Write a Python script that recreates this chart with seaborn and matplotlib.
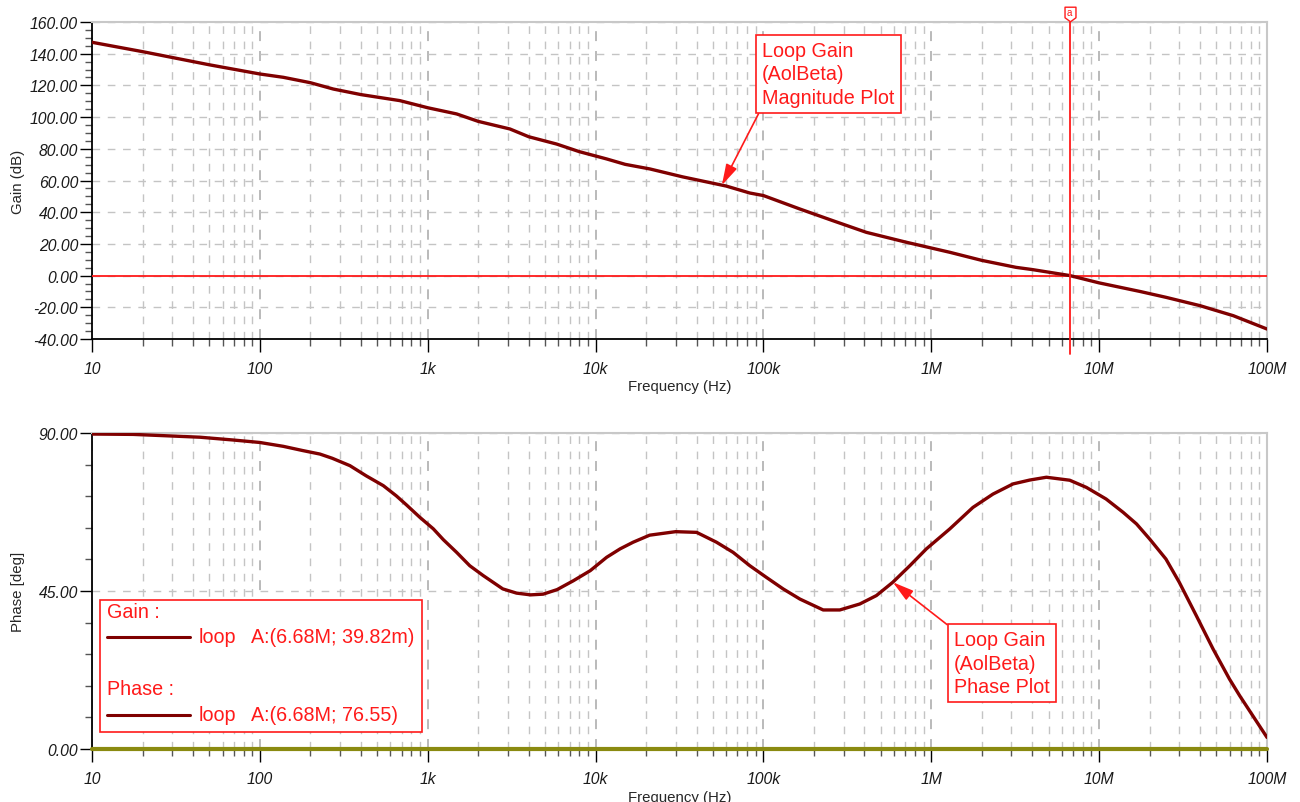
import numpy as np
import pandas as pd
import matplotlib
matplotlib.use("Agg")
import matplotlib.pyplot as plt
import matplotlib.transforms as mtransforms
from matplotlib.path import Path
from matplotlib.patches import Rectangle
from matplotlib.lines import Line2D
from matplotlib.ticker import FixedLocator, MultipleLocator, LogLocator, NullFormatter, FuncFormatter
import seaborn as sns

# ---- loop gain (AolBeta) data ----
gain_freq = [10, 20, 50, 100, 138, 200, 274, 400, 682, 1e3, 1487, 2e3, 3090, 4e3, 5860,
             8e3, 11640, 1.5e4, 21050, 3.3e4, 6e4, 8.3e4, 1e5, 1.65e5, 2.6e5, 4.1e5, 7e5,
             1.29e6, 2e6, 3.2e6, 4e6, 6.68e6, 1e7, 1.75e7, 2.5e7, 4e7, 5e7, 6.3e7, 1e8]
gain_db = [147.2, 141.3, 133.0, 127.2, 125.1, 121.7, 117.7, 114.2, 110.4, 105.9, 102.0,
           97.3, 92.5, 87.6, 83.0, 78.2, 73.6, 70.2, 67.3, 62.3, 56.5, 52.1, 50.5, 42.0,
           34.6, 27.3, 21.2, 14.7, 9.6, 5.2, 3.8, 0.04, -4.6, -10.0, -13.7, -19.0, -22.1,
           -25.3, -33.7]

phase_freq = [10, 17.6, 28, 44, 69.5, 100, 138, 180, 228, 270, 344, 430, 544, 650, 748,
              897, 1080, 1240, 1487, 1780, 2140, 2800, 3380, 4100, 4870, 5900, 7360, 9300,
              11640, 1.4e4, 16750, 2.1e4, 3e4, 4e4, 5.25e4, 6.6e4, 8.3e4, 1.04e5, 1.31e5,
              1.65e5, 2.27e5, 2.85e5, 3.75e5, 4.71e5, 5.9e5, 7.45e5, 9.35e5, 1.29e6,
              1.77e6, 2.33e6, 3.07e6, 3.86e6, 4.85e6, 6.68e6, 8.4e6, 1.1e7, 1.39e7,
              1.67e7, 2e7, 2.5e7, 3e7, 3.79e7, 4.77e7, 5.98e7, 6.87e7, 1e8]
phase_deg = [89.7, 89.6, 89.2, 88.8, 88.0, 87.3, 86.2, 85.0, 84.0, 82.8, 80.7, 77.8, 75.0,
             72.1, 69.5, 66.0, 62.7, 59.6, 56.0, 52.2, 49.4, 45.6, 44.4, 43.9, 44.1, 45.4,
             47.9, 50.8, 54.6, 57.0, 58.9, 60.9, 61.9, 61.7, 58.9, 56.0, 52.2, 48.9, 45.6,
             42.7, 39.6, 39.6, 41.3, 43.7, 47.5, 52.2, 57.0, 62.7, 68.8, 72.6, 75.5, 76.6,
             77.4, 76.55, 74.5, 71.2, 67.4, 64.1, 59.8, 54.1, 47.5, 38.0, 28.5, 19.9, 15.2,
             3.3]

# cursor A readout
cursor_freq = 6.68e6
cursor_gain_label = "39.82m"
cursor_phase_label = "76.55"

# arrow targets of the two callouts
mag_callout_freq = 5.65e4
mag_callout_gain = 57.0
phase_callout_freq = 5.9e5
phase_callout_deg = 47.5

freq_ticks = [10, 100, 1e3, 1e4, 1e5, 1e6, 1e7, 1e8]
freq_tick_labels = ["10", "100", "1k", "10k", "100k", "1M", "10M", "100M"]
gain_ticks = [-40, -20, 0, 20, 40, 60, 80, 100, 120, 140, 160]
phase_ticks = [0, 45, 90]

sns.set_style("white")
plt.rcParams["font.family"] = ["Liberation Sans", "DejaVu Sans"]

W, H = 1300, 803
fig = plt.figure(figsize=(W / 100, H / 100), dpi=100)

def fx(px):
    return px / W

def fy(py):
    return 1 - py / H

CURVE = "#7f0000"
RED = "#ff1a1a"
GRID = "#c4c4c4"

ax1 = fig.add_axes([fx(92), fy(340), fx(1267) - fx(92), fy(23) - fy(340)])
ax2 = fig.add_axes([fx(92), fy(750), fx(1267) - fx(92), fy(434) - fy(750)])

df_gain = pd.DataFrame({"Frequency": gain_freq, "Gain": gain_db})
df_phase = pd.DataFrame({"Frequency": phase_freq, "Phase": phase_deg})


def style_axes(ax, yticks, yminor, ylim):
    ax.set_xscale("log")
    ax.set_xlim(10, 1e8)
    ax.set_ylim(*ylim)
    ax.xaxis.set_major_locator(FixedLocator(freq_ticks))
    ax.xaxis.set_major_formatter(FuncFormatter(
        lambda v, pos: freq_tick_labels[freq_ticks.index(v)] if v in freq_ticks else ""))
    ax.xaxis.set_minor_locator(LogLocator(base=10, subs=np.arange(2, 10)))
    ax.xaxis.set_minor_formatter(NullFormatter())
    ax.yaxis.set_major_locator(FixedLocator(yticks))
    ax.yaxis.set_minor_locator(MultipleLocator(yminor))
    ax.yaxis.set_major_formatter(FuncFormatter(lambda v, pos: f"{v:.2f}"))
    for s in ("top", "right"):
        ax.spines[s].set_color("#c8c8c8")
        ax.spines[s].set_linewidth(1.5)
    for s in ("left", "bottom"):
        ax.spines[s].set_color("black")
        ax.spines[s].set_linewidth(1.3)
    ax.tick_params(axis="both", which="both", bottom=True, left=True, top=False,
                   right=False)
    ax.tick_params(axis="both", which="major", direction="out", length=9, width=1.0,
                   color="black", labelsize=11.3, labelcolor="#1a1a1a")
    ax.tick_params(axis="both", which="minor", direction="out", length=5, width=1.0,
                   color="#555555")
    ax.tick_params(axis="x", which="major", pad=7)
    ax.tick_params(axis="y", which="major", pad=1)
    for lab in ax.get_xticklabels() + ax.get_yticklabels():
        lab.set_fontstyle("italic")
    ax.grid(False)
    # dashed grid: all log-decade positions vertically, major values horizontally
    ax.grid(True, which="minor", axis="x", color=GRID, lw=1.0, ls=(0, (5.5, 5.5)))
    ax.grid(True, which="major", axis="x", color="#b4b4b4", lw=1.3, ls=(0, (5.5, 5.5)))
    ax.grid(True, which="major", axis="y", color=GRID, lw=1.0, ls=(0, (5.5, 5.5)))
    ax.set_axisbelow(True)


# ---- magnitude plot ----
sns.lineplot(data=df_gain, x="Frequency", y="Gain", ax=ax1, color=CURVE, lw=2.4,
             estimator=None, sort=True, zorder=4)
style_axes(ax1, gain_ticks, 5, (-40, 160))
ax1.axhline(0, color=RED, lw=1.3, zorder=3)
ax1.set_xlabel("Frequency (Hz)", fontsize=10.8)
ax1.set_ylabel("Gain (dB)", fontsize=10.8)
ax1.xaxis.set_label_coords(0.5, -0.127)
ax1.yaxis.set_label_coords(-0.057, 0.5)

# cursor A
bl1 = mtransforms.blended_transform_factory(ax1.transData, ax1.transAxes)
ax1.plot([cursor_freq, cursor_freq], [-0.047, 1.0], transform=bl1, color=RED, lw=1.3,
         clip_on=False, zorder=5)
flag = Path([(-0.75, 1.0), (0.75, 1.0), (0.75, -0.45), (0.0, -1.0), (-0.75, -0.45),
             (-0.75, 1.0)],
            [Path.MOVETO, Path.LINETO, Path.LINETO, Path.LINETO, Path.LINETO, Path.CLOSEPOLY])
ax1.plot([cursor_freq], [1.024], transform=bl1, marker=flag, markersize=10.5,
         markerfacecolor="white", markeredgecolor=RED, markeredgewidth=1.0,
         clip_on=False, zorder=6)
ax1.text(cursor_freq, 1.03, "a", transform=bl1, ha="center", va="center", fontsize=7,
         color=RED, zorder=7)

arrow_kw = dict(arrowstyle="-|>,head_length=0.9,head_width=0.25", color=RED, lw=1.2,
                shrinkA=0, shrinkB=0)
box_kw = dict(boxstyle="square,pad=0.32", fc="white", ec=RED, lw=1.2)

ax1.annotate("Loop Gain\n(AolBeta)\nMagnitude Plot",
             xy=(mag_callout_freq, mag_callout_gain), xycoords="data",
             xytext=(fx(762), fy(42)), textcoords="figure fraction",
             ha="left", va="top", fontsize=14.2, color=RED, linespacing=1.3,
             bbox=box_kw, arrowprops=dict(relpos=(0, 0), **arrow_kw), zorder=8)

# ---- phase plot ----
sns.lineplot(data=df_phase, x="Frequency", y="Phase", ax=ax2, color=CURVE, lw=2.4,
             estimator=None, sort=True, zorder=4)
style_axes(ax2, phase_ticks, 9, (0, 90))
ax2.axhline(0, color="#8a8a10", lw=3.0, zorder=5, clip_on=False)
ax2.set_xlabel("Frequency (Hz)", fontsize=10.8)
ax2.set_ylabel("Phase [deg]", fontsize=10.8)
ax2.xaxis.set_label_coords(0.5, -0.131)
ax2.yaxis.set_label_coords(-0.057, 0.5)

ax2.annotate("Loop Gain\n(AolBeta)\nPhase Plot",
             xy=(phase_callout_freq, phase_callout_deg), xycoords="data",
             xytext=(fx(954), fy(631)), textcoords="figure fraction",
             ha="left", va="top", fontsize=14.2, color=RED, linespacing=1.3,
             bbox=box_kw, arrowprops=dict(relpos=(0, 1), **arrow_kw), zorder=8)

# ---- cursor readout box ----
fig.add_artist(Rectangle((fx(100), fy(733)), fx(422) - fx(100), fy(601) - fy(733),
                         transform=fig.transFigure, fc="white", ec=RED, lw=1.2, zorder=9))
rows = [("Gain :", 612, 638, cursor_gain_label), ("Phase :", 690, 716, cursor_phase_label)]
for title, ty, ly, val in rows:
    fig.text(fx(107), fy(ty), title, ha="left", va="center", fontsize=14.2, color=RED,
             zorder=10)
    fig.add_artist(Line2D([fx(107), fx(190)], [fy(ly), fy(ly)], transform=fig.transFigure,
                          color=CURVE, lw=2.2, zorder=10))
    fig.text(fx(199), fy(ly), "loop", ha="left", va="center", fontsize=14.2, color=RED,
             zorder=10)
    fig.text(fx(251), fy(ly), f"A:(6.68M; {val})", ha="left", va="center", fontsize=14.2,
             color=RED, zorder=10)

fig.savefig("out.png", dpi=100)
